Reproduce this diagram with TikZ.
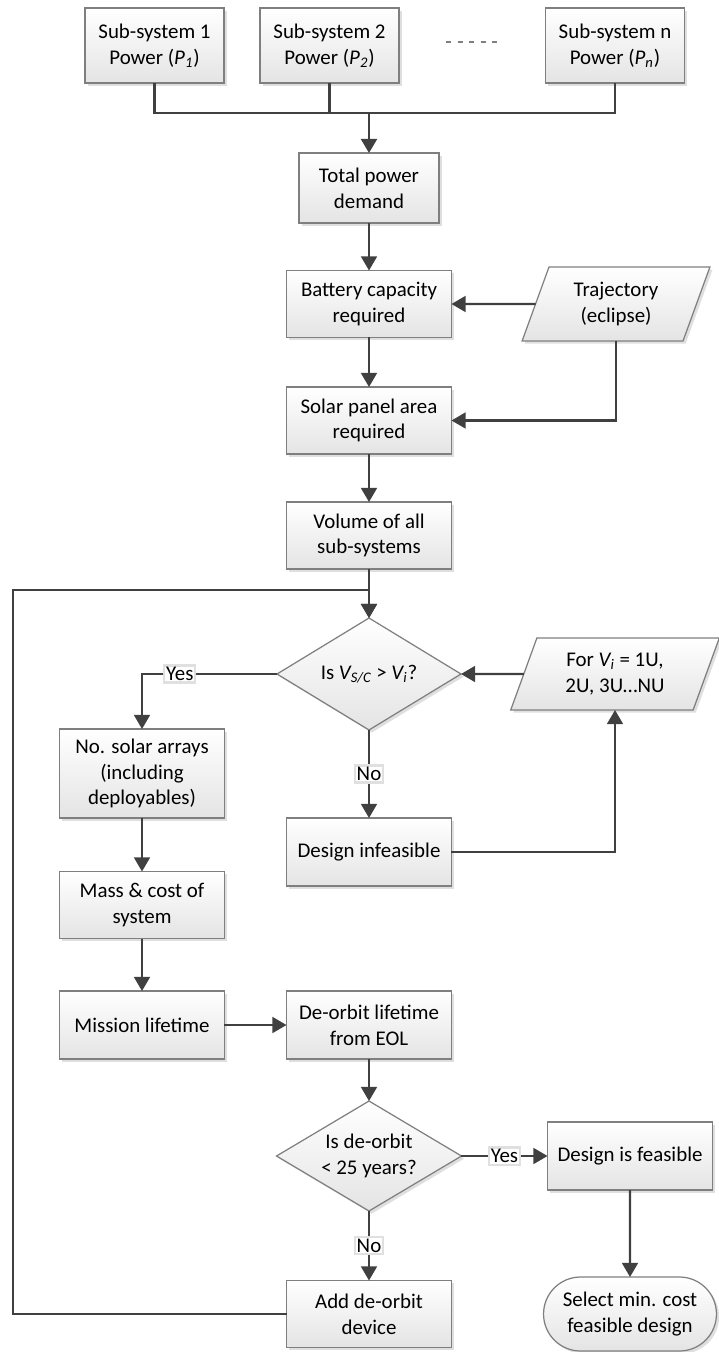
\documentclass[tikz,border=0pt]{standalone}
\usepackage{fontspec}
\setmainfont{Carlito}
\usetikzlibrary{arrows.meta, shapes.geometric, shapes.misc, shadows}

\definecolor{linegray}{HTML}{404040}
\definecolor{boxgray}{HTML}{7F7F7F}
\definecolor{fillgray}{HTML}{E4E4E4}

\begin{document}
\begin{tikzpicture}[
    x=0.02cm, y=-0.02cm,
    font=\fontsize{11.9}{14.6}\selectfont,
    procbox/.style={draw=boxgray, line width=0.7pt, top color=white, bottom color=fillgray,
        drop shadow={shadow xshift=1.5pt, shadow yshift=-1.5pt, opacity=0.25},
        align=center, minimum width=3.3cm, minimum height=1.34cm, inner sep=2pt, outer sep=0pt},
    iobox/.style={procbox, trapezium, trapezium left angle=70, trapezium right angle=110,
        minimum height=1.44cm},
    decide/.style={procbox, diamond, aspect=1.65, inner sep=0pt},
    term/.style={procbox, rounded rectangle},
    lbl/.style={fill=white, draw=black!12, inner sep=1pt},
    conn/.style={draw=linegray, line width=1.2pt},
    arr/.style={conn, -{Triangle[length=8pt, width=9pt]}}
]
    \useasboundingbox (0,0) rectangle (719,1352);

    % sub-system power inputs
    \node[procbox, minimum width=2.78cm, minimum height=1.5cm] (sub1) at (154.5,45.5) {Sub-system 1\\Power (\textit{P\textsubscript{1}})};
    \node[procbox, minimum width=2.78cm, minimum height=1.5cm] (sub2) at (329.5,45.5) {Sub-system 2\\Power (\textit{P\textsubscript{2}})};
    \node[procbox, minimum width=2.78cm, minimum height=1.5cm] (subn) at (615,45.5) {Sub-system n\\Power (\textit{P\textsubscript{n}})};
    \coordinate (dots1) at (446,42);
    \coordinate (dots2) at (497,42);
    \draw[boxgray, line width=0.8pt, dash pattern=on 0.1cm off 0.13cm] (dots1) -- (dots2);
    \coordinate (bus) at (369,113);

    % main column
    \node[procbox, minimum width=2.8cm, minimum height=1.4cm] (total) at (369,188) {Total power\\demand};
    \node[procbox] (battery) at (369,304) {Battery capacity\\required};
    \node[iobox, minimum width=3.76cm] (traj) at (616,304) {Trajectory\\(eclipse)};
    \node[procbox] (solar) at (369,420.5) {Solar panel area\\required};
    \node[procbox] (volume) at (369,535.5) {Volume of all\\sub-systems};
    \coordinate (loop) at (13,590);

    \node[decide, minimum width=3.68cm, minimum height=2.24cm] (fits) at (369,674) {Is \textit{V\textsubscript{S/C}} > \textit{V\textsubscript{i}}?};
    \node[iobox, minimum width=4.1cm] (sizes) at (615,674) {For \textit{V\textsubscript{i}} = 1U,\\2U, 3U…NU};
    \node[procbox, minimum height=1.78cm] (arrays) at (142,773.5) {No. solar arrays\\(including\\deployables)};
    \node[procbox, minimum height=1.36cm] (infeas) at (369,852) {Design infeasible};
    \node[procbox] (mass) at (142,905) {Mass \& cost of\\system};
    \node[procbox, minimum height=1.36cm] (mission) at (142,1025) {Mission lifetime};
    \node[procbox, minimum height=1.36cm] (deorbit) at (369,1025) {De-orbit lifetime\\from EOL};

    \node[decide, minimum width=3.7cm, minimum height=2.2cm] (limit) at (369,1156) {Is de-orbit\\< 25 years?};
    \node[procbox, minimum height=1.36cm] (feasible) at (630,1156) {Design is feasible};
    \node[procbox] (adddev) at (369,1314) {Add de-orbit\\device};
    \node[term, minimum width=3.6cm, minimum height=1.48cm] (select) at (630,1314) {Select min. cost\\feasible design};

    % connectors
    \draw[conn] (sub1.south) |- (bus);
    \draw[conn] (subn.south) |- (bus);
    \draw[conn] (sub2.south) |- (bus);
    \draw[arr, line width=1.6pt] (bus) -- (total.north);
    \draw[arr] (total) -- (battery);
    \draw[arr] (traj.west) -- (battery.east);
    \draw[arr] (battery) -- (solar);
    \draw[arr] (traj.south) |- (solar.east);
    \draw[arr] (solar) -- (volume);
    \draw[arr] (volume) -- (fits);
    \draw[arr] (adddev.west) -| (loop) -| (fits.north);
    \draw[arr] (sizes.west) -- (fits.east);
    \draw[arr] (fits.west) -| node[lbl, pos=0.36] {Yes} (arrays.north);
    \draw[arr] (fits.south) -- node[lbl] {No} (infeas.north);
    \draw[arr] (infeas.east) -| (sizes.south);
    \draw[arr] (arrays) -- (mass);
    \draw[arr] (mass) -- (mission);
    \draw[arr] (mission) -- (deorbit);
    \draw[arr] (deorbit) -- (limit);
    \draw[arr] (limit.east) -- node[lbl] {Yes} (feasible.west);
    \draw[arr] (limit.south) -- node[lbl] {No} (adddev.north);
    \draw[arr] (feasible) -- (select);
\end{tikzpicture}
\end{document}
